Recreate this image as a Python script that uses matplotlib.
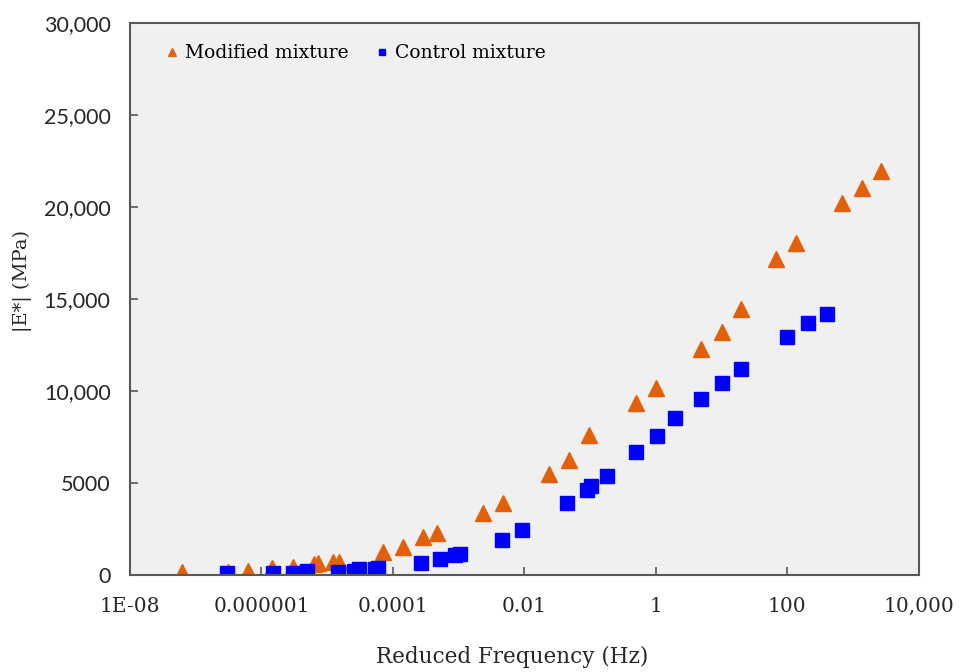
import matplotlib
matplotlib.use("Agg")
import matplotlib.pyplot as plt
from matplotlib.ticker import FixedLocator, FixedFormatter

# reduced frequency (Hz) and |E*| (MPa)
mod_freq = [6.1e-8, 3.1e-7, 6.3e-7, 1.43e-6, 3.05e-6, 6.2e-6, 7.3e-6, 1.24e-5,
            1.52e-5, 7.1e-5, 1.44e-4, 2.89e-4, 4.72e-4, 2.36e-3, 4.66e-3, 2.36e-2,
            4.8e-2, 9.7e-2, 0.497, 1.01, 4.95, 10.2, 20.1, 66.8, 138, 692, 1374, 2710]
mod_e = [180, 180, 230, 365, 450, 600, 670, 720, 720, 1270, 1550, 2065, 2310,
         3350, 3900, 5490, 6250, 7610, 9375, 10160, 12270, 13220, 14470, 17190,
         18030, 20200, 21050, 21970]

ctl_freq = [2.96e-7, 1.48e-6, 3.05e-6, 5.0e-6, 1.47e-5, 2.55e-5, 3.07e-5, 5.3e-5,
            5.97e-5, 2.64e-4, 5.19e-4, 8.77e-4, 1.045e-3, 4.5e-3, 9.2e-3, 4.48e-2,
            9.0e-2, 0.1016, 0.178, 0.502, 1.026, 1.98, 4.95, 10.2, 20.1, 100.7, 207, 408]
ctl_e = [90, 90, 90, 230, 180, 230, 310, 330, 365, 670, 850, 1090, 1160, 1900,
         2460, 3930, 4620, 4840, 5380, 6700, 7550, 8520, 9570, 10420, 11180,
         12920, 13680, 14170]

x_ticks = [1e-8, 1e-6, 1e-4, 1e-2, 1, 100, 1e4]
x_labels = ["1E-08", "0.000001", "0.0001", "0.01", "1", "100", "10,000"]
y_ticks = [0, 5000, 10000, 15000, 20000, 25000, 30000]
y_labels = ["0", "5000", "10,000", "15,000", "20,000", "25,000", "30,000"]

serif = "DejaVu Serif"
sans = "Lato"
frame_col = "#595959"
text_col = "#262626"

fig = plt.figure(figsize=(9.63, 6.72), dpi=100)
ax = fig.add_axes([0.135, 0.1443, 0.819, 0.8215])
ax.set_facecolor("#f0f0f0")

ax.plot(mod_freq, mod_e, linestyle="none", marker="^", ms=11, color="#e3600a",
        label="Modified mixture")
ax.plot(ctl_freq, ctl_e, linestyle="none", marker="s", ms=9.5, color="#0000ff",
        label="Control mixture")

ax.set_xscale("log")
ax.set_xlim(1e-8, 1e4)
ax.set_ylim(0, 30000)

ax.xaxis.set_major_locator(FixedLocator(x_ticks))
ax.xaxis.set_major_formatter(FixedFormatter(x_labels))
ax.xaxis.set_minor_locator(FixedLocator([]))
ax.yaxis.set_major_locator(FixedLocator(y_ticks))
ax.yaxis.set_major_formatter(FixedFormatter(y_labels))

ax.tick_params(axis="both", direction="in", length=6, width=1.2, color=frame_col)
ax.tick_params(axis="x", pad=16, labelsize=14.5, labelcolor=text_col)
ax.tick_params(axis="y", pad=14, labelsize=15.5, labelcolor=text_col)
for lab in ax.get_xticklabels():
    lab.set_fontfamily(serif)
for lab in ax.get_yticklabels():
    lab.set_fontfamily(sans)

for sp in ax.spines.values():
    sp.set_color(frame_col)
    sp.set_linewidth(1.5)

xl = ax.set_xlabel("Reduced Frequency (Hz)", family=serif, fontsize=15.5,
                   color=text_col)
xl.set_va("center")
ax.xaxis.set_label_coords(0.485, -0.149)
yl = ax.set_ylabel("|E*| (MPa)", family=serif, fontsize=14, color=text_col)
yl.set_va("center")
ax.yaxis.set_label_coords(-0.137, 0.533)

ax.legend(loc="upper left", bbox_to_anchor=(0.022, 0.992), ncol=2, frameon=False,
          markerscale=0.5, handlelength=0.8, handletextpad=0.3, columnspacing=1.37,
          prop={"family": serif, "size": 13.5})

fig.savefig("out.png", dpi=100)
